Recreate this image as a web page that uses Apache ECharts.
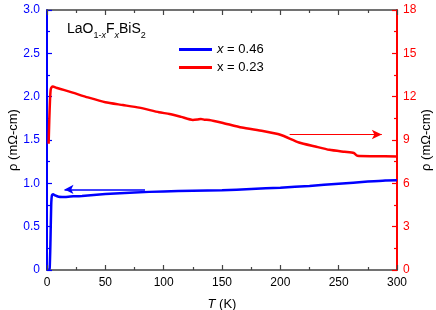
<!DOCTYPE html>
<html>
<head>
<meta charset="utf-8">
<script src="https://cdn.jsdelivr.net/npm/echarts@6/dist/echarts.min.js"></script>
<style>
    html, body { margin: 0; padding: 0; background: #fff; }
    #chart { width: 436px; height: 310px; }
</style>
</head>
<body>
<div id="chart"></div>
<script>
// x = 0.46 sample, left axis (mOhm-cm)
let blueName = "x = 0.46";
let blueT = [1.5, 2.3, 3.0, 3.6, 4.2, 5.2, 7, 10, 13, 20, 30, 50, 75, 100, 125, 150, 175, 200, 225, 250, 275, 290, 300];
let blueRho = [0, 0.02, 0.35, 0.75, 0.86, 0.875, 0.86, 0.845, 0.843, 0.848, 0.855, 0.877, 0.895, 0.907, 0.913, 0.92, 0.935, 0.95, 0.97, 0.995, 1.02, 1.033, 1.035];

// x = 0.23 sample, right axis (mOhm-cm)
let redName = "x = 0.23";
let redT = [1.4, 2.0, 2.6, 3.2, 4.0, 5.0, 8, 15, 22, 35, 50, 65, 79, 96, 105, 115, 125, 129, 132, 135, 139, 150, 167, 185, 200, 216, 230, 242, 255, 263, 266, 280, 300];
let redRho = [8.74, 10.5, 11.8, 12.5, 12.65, 12.7, 12.62, 12.45, 12.28, 11.95, 11.61, 11.42, 11.24, 10.92, 10.8, 10.6, 10.39, 10.42, 10.46, 10.4, 10.39, 10.2, 9.86, 9.62, 9.36, 8.83, 8.55, 8.32, 8.18, 8.1, 7.91, 7.88, 7.86];

// arrows: [from T, to T, value]
let blueArrow = [84, 15, 0.93];
let redArrow = [208, 287, 9.38];

let chart = echarts.init(document.getElementById("chart"));
let font = "Liberation Sans, Arial, sans-serif";

let option = {
    backgroundColor: "#fff",
    animation: false,
    textStyle: {
        fontFamily: font
    },
    grid: {
        left: 47,
        right: 39,
        top: 10,
        bottom: 40,
        containLabel: false,
        outerBoundsMode: "none"
    },
    graphic: [
        {
            type: "text",
            left: 67,
            top: 22,
            style: {
                text: "{n|LaO}{s|1-}{si|x}{n|F}{si|x}{n|BiS}{s|2}",
                rich: {
                    n: { fontSize: 14, fontFamily: font, fill: "#000", lineHeight: 22, verticalAlign: "middle" },
                    s: { fontSize: 9, fontFamily: font, fill: "#000", lineHeight: 8, verticalAlign: "bottom" },
                    si: { fontSize: 9, fontFamily: font, fontStyle: "italic", fill: "#000", lineHeight: 8, verticalAlign: "bottom" }
                }
            }
        }
    ],
    legend: {
        orient: "vertical",
        left: 174,
        top: 38,
        itemWidth: 33,
        itemHeight: 3,
        itemGap: 5,
        icon: "rect",
        data: [blueName, redName],
        formatter: function (name) {
            return name === blueName ? "{i|x} = 0.46" : "x = 0.23";
        },
        textStyle: {
            fontSize: 13,
            color: "#000",
            fontFamily: font,
            rich: {
                i: { fontStyle: "italic", fontSize: 13, fontFamily: font, color: "#000" }
            }
        }
    },
    xAxis: [
        {
            type: "value",
            position: "bottom",
            min: 0,
            max: 300,
            interval: 50,
            name: "{i|T} (K)",
            nameLocation: "middle",
            nameGap: 28,
            nameMoveOverlap: false,
            nameTextStyle: {
                fontSize: 13,
                color: "#000",
                rich: {
                    i: { fontStyle: "italic", fontSize: 13, color: "#000", fontFamily: font }
                }
            },
            axisLine: { show: true, onZero: false, lineStyle: { color: "#444", width: 1.5 } },
            axisTick: { inside: true, length: 5, lineStyle: { color: "#444", width: 1.2 } },
            minorTick: { show: true, splitNumber: 2, length: 3, lineStyle: { color: "#444", width: 1.2 } },
            axisLabel: { fontSize: 12, color: "#000", margin: 7 },
            splitLine: { show: false }
        },
        {
            type: "value",
            position: "top",
            min: 0,
            max: 300,
            interval: 50,
            axisLine: { show: true, onZero: false, lineStyle: { color: "#444", width: 1.5 } },
            axisTick: { show: true, inside: true, length: 5, lineStyle: { color: "#444", width: 1.2 } },
            minorTick: { show: true, splitNumber: 2, length: 3, lineStyle: { color: "#444", width: 1.2 } },
            axisLabel: { show: false },
            splitLine: { show: false }
        }
    ],
    yAxis: [
        {
            type: "value",
            position: "left",
            min: 0,
            max: 3,
            interval: 0.5,
            name: "ρ (mΩ-cm)",
            nameLocation: "middle",
            nameGap: 27,
            nameMoveOverlap: false,
            nameTextStyle: { fontSize: 13, color: "#000" },
            axisLine: { show: true, onZero: false, lineStyle: { color: "#0000ff", width: 2 } },
            axisTick: { inside: true, length: 5, lineStyle: { color: "#0000ff", width: 1.2 } },
            minorTick: { show: true, splitNumber: 2, length: 3, lineStyle: { color: "#0000ff", width: 1.2 } },
            axisLabel: {
                fontSize: 12,
                color: "#0000ff",
                margin: 7,
                formatter: function (v) {
                    return v === 0 ? "0" : v.toFixed(1);
                }
            },
            splitLine: { show: false }
        },
        {
            type: "value",
            position: "right",
            min: 0,
            max: 18,
            interval: 3,
            name: "ρ (mΩ-cm)",
            nameLocation: "middle",
            nameRotate: 90,
            nameGap: 23,
            nameMoveOverlap: false,
            nameTextStyle: { fontSize: 13, color: "#000" },
            axisLine: { show: true, onZero: false, lineStyle: { color: "#ff0000", width: 2 } },
            axisTick: { inside: true, length: 5, lineStyle: { color: "#ff0000", width: 1.2 } },
            minorTick: { show: true, splitNumber: 2, length: 3, lineStyle: { color: "#ff0000", width: 1.2 } },
            axisLabel: { fontSize: 12, color: "#ff0000", margin: 6 },
            splitLine: { show: false }
        }
    ],
    series: [
        {
            name: blueName,
            type: "line",
            xAxisIndex: 0,
            yAxisIndex: 0,
            data: blueT.map((t, i) => [t, blueRho[i]]),
            symbol: "none",
            smooth: 0.2,
            itemStyle: { color: "#0000ff" },
            lineStyle: { color: "#0000ff", width: 2.5 },
            z: 3,
            markLine: {
                silent: true,
                symbol: ["none", "arrow"],
                symbolSize: [7, 9],
                label: { show: false },
                lineStyle: { color: "#0000ff", width: 1.5, type: "solid" },
                data: [[
                    { coord: [blueArrow[0], blueArrow[2]] },
                    { coord: [blueArrow[1], blueArrow[2]] }
                ]]
            }
        },
        {
            name: redName,
            type: "line",
            xAxisIndex: 0,
            yAxisIndex: 1,
            data: redT.map((t, i) => [t, redRho[i]]),
            symbol: "none",
            smooth: 0.2,
            itemStyle: { color: "#ff0000" },
            lineStyle: { color: "#ff0000", width: 2.5 },
            z: 2,
            markLine: {
                silent: true,
                symbol: ["none", "arrow"],
                symbolSize: [7, 10],
                label: { show: false },
                lineStyle: { color: "#ff0000", width: 1.2, type: "solid" },
                data: [[
                    { coord: [redArrow[0], redArrow[2]] },
                    { coord: [redArrow[1], redArrow[2]] }
                ]]
            }
        }
    ]
};
chart.setOption(option);
</script>
</body>
</html>
